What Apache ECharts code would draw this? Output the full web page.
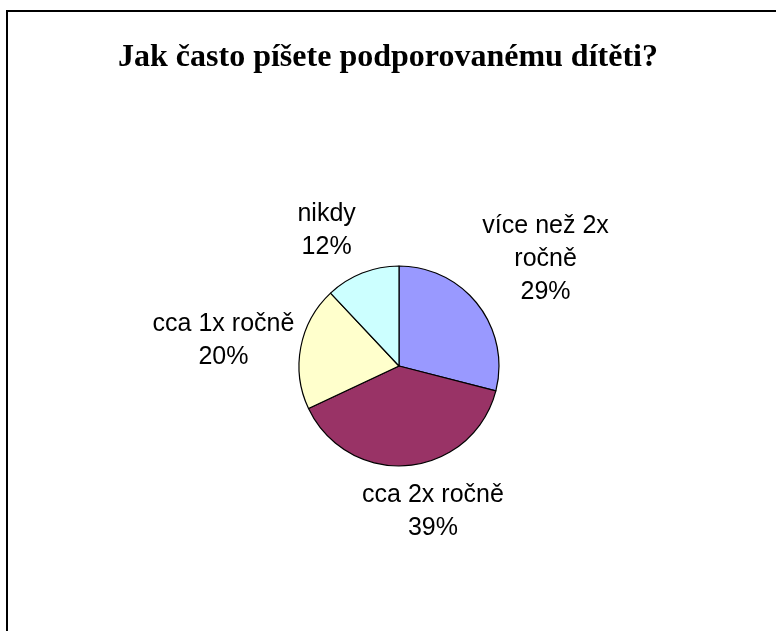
<!DOCTYPE html>
<html>
<head>
<meta charset="utf-8">
<script src="https://cdn.jsdelivr.net/npm/echarts@6/dist/echarts.min.js"></script>
<style>
html,body{margin:0;padding:0;background:#fff;}
#chart{width:776px;height:631px;}
</style>
</head>
<body>
<div id="chart"></div>
<script>
const titleText = 'Jak často píšete podporovanému dítěti?';
const categories = ['více než 2x ročně', 'cca 2x ročně', 'cca 1x ročně', 'nikdy'];
const values = [29, 39, 20, 12];
const colors = ['#9999FF', '#993366', '#FFFFCC', '#CCFFFF'];

const CX = 399, CY = 366, R = 100;
const labelGap = 9;
const labelNudge = [[-3, 9], [20, -2], [6, 9], [-17, 4]];
const maxLineChars = 13;

function wrapName(name) {
  if (name.length <= maxLineChars) return name;
  const k = name.lastIndexOf(' ');
  return name.slice(0, k) + '\n' + name.slice(k + 1);
}

const chart = echarts.init(document.getElementById('chart'), null, {renderer: 'canvas'});
const total = values.reduce((a, b) => a + b, 0);
const midAngles = [];
let acc = 0;
values.forEach(v => { midAngles.push((acc + v / 2) / total * 2 * Math.PI); acc += v; });

chart.setOption({
  backgroundColor: '#fff',
  animation: false,
  title: {
    text: titleText,
    left: 'center',
    top: 37,
    textStyle: {fontFamily: 'Liberation Serif', fontWeight: 'bold', fontSize: 32, color: '#000'}
  },
  graphic: [{
    type: 'rect',
    shape: {x: 7, y: 11, width: 820, height: 700},
    style: {fill: 'none', stroke: '#000', lineWidth: 2},
    silent: true
  }],
  series: [{
    type: 'pie',
    center: [CX, CY],
    radius: R,
    startAngle: 90,
    clockwise: true,
    data: categories.map((c, i) => ({name: c, value: values[i], itemStyle: {color: colors[i]}})),
    itemStyle: {borderColor: '#000', borderWidth: 1.2},
    emphasis: {disabled: true},
    label: {
      show: true,
      position: 'outside',
      formatter: p => wrapName(p.name) + '\n' + Math.round(p.percent) + '%',
      fontFamily: 'Liberation Sans',
      fontSize: 25,
      lineHeight: 33,
      color: '#000',
      align: 'center'
    },
    labelLine: {show: false},
    labelLayout: function (params) {
      const i = params.dataIndex;
      const w = params.labelRect.width, h = params.labelRect.height;
      const a = midAngles[i];
      const sx = Math.sin(a), sy = -Math.cos(a);
      const ext = Math.abs(sx) * w / 2 + Math.abs(sy) * h / 2;
      const d = R + labelGap + ext;
      return {
        x: CX + sx * d + labelNudge[i][0],
        y: CY + sy * d + labelNudge[i][1],
        align: 'center',
        verticalAlign: 'middle'
      };
    }
  }]
});
</script>
</body>
</html>
